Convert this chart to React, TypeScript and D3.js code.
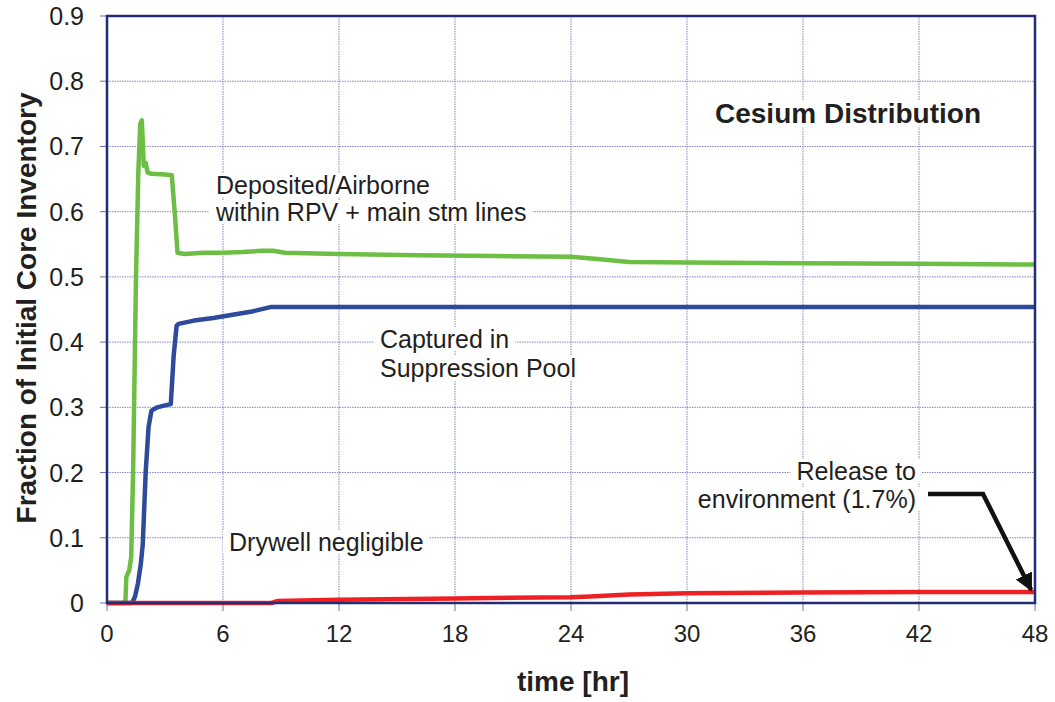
import React, { useEffect, useRef } from 'react';
import * as d3 from 'd3';

// time [hr] and fraction of core inventory
const greenT = [0, 0.95, 1.0, 1.15, 1.25, 1.35, 1.5, 1.62, 1.72, 1.8, 1.86, 1.9, 2.0, 2.1, 2.3, 3.0, 3.35, 3.5, 3.65, 4.0, 5.0, 6.0, 7.0, 8.0, 8.6, 9.2, 12, 16, 20, 24, 25.5, 27, 30, 36, 42, 48];
const greenV = [0, 0, 0.04, 0.05, 0.07, 0.2, 0.5, 0.66, 0.735, 0.74, 0.7, 0.67, 0.675, 0.66, 0.658, 0.657, 0.656, 0.6, 0.537, 0.535, 0.537, 0.537, 0.538, 0.54, 0.54, 0.537, 0.535, 0.533, 0.532, 0.531, 0.527, 0.523, 0.522, 0.521, 0.52, 0.519];

const blueT = [0, 1.3, 1.45, 1.6, 1.75, 1.85, 2.0, 2.15, 2.3, 2.6, 3.0, 3.3, 3.45, 3.6, 3.7, 4.5, 5.5, 6.5, 7.5, 8.5, 48];
const blueV = [0, 0, 0.01, 0.03, 0.06, 0.09, 0.2, 0.27, 0.295, 0.3, 0.303, 0.305, 0.38, 0.425, 0.428, 0.433, 0.437, 0.442, 0.447, 0.454, 0.454];

const redT = [0, 8.5, 8.8, 12, 18, 24, 25, 27, 30, 36, 42, 48];
const redV = [0, 0, 0.003, 0.005, 0.007, 0.009, 0.01, 0.013, 0.015, 0.016, 0.017, 0.017];

const xTicks = [0, 6, 12, 18, 24, 30, 36, 42, 48];
const yTicks = [0, 0.1, 0.2, 0.3, 0.4, 0.5, 0.6, 0.7, 0.8, 0.9];

const W = 1055;
const H = 702;

export default function App() {
  const svgRef = useRef<SVGSVGElement>(null);

  useEffect(() => {
    if (!svgRef.current) return;
    const svg = d3.select(svgRef.current);
    svg.selectAll('*').remove();

    const left = 107, right = 1035, top = 16, bottom = 603;
    const x = d3.scaleLinear().domain([0, 48]).range([left, right]);
    const y = d3.scaleLinear().domain([0, 0.9]).range([bottom, top]);
    const navy = '#232c74';
    const font = '"Liberation Sans", Arial, sans-serif';
    const ink = '#231f20';

    svg.append('rect').attr('width', W).attr('height', H).attr('fill', '#fff');

    // grid
    const grid = svg.append('g');
    xTicks.slice(1, -1).forEach(t => {
      grid.append('line')
        .attr('x1', x(t)).attr('x2', x(t)).attr('y1', top).attr('y2', bottom)
        .attr('stroke', '#7f84c4').attr('stroke-width', 1).attr('stroke-dasharray', '1.5,1');
    });
    yTicks.slice(1, -1).forEach(v => {
      grid.append('line')
        .attr('x1', left).attr('x2', right).attr('y1', y(v)).attr('y2', y(v))
        .attr('stroke', '#7f84c4').attr('stroke-width', 1).attr('stroke-dasharray', '1.5,1');
    });

    // tick marks + labels
    yTicks.forEach(v => {
      svg.append('line').attr('x1', left - 7).attr('x2', left).attr('y1', y(v)).attr('y2', y(v))
        .attr('stroke', '#6a6ea8').attr('stroke-width', 1);
      svg.append('text').attr('x', 84).attr('y', y(v)).attr('dy', '0.36em')
        .attr('text-anchor', 'end').style('font-family', font).style('font-size', '25px')
        .attr('fill', ink).text(v === 0 ? '0' : v.toFixed(1));
    });
    xTicks.forEach(t => {
      svg.append('line').attr('x1', x(t)).attr('x2', x(t)).attr('y1', bottom).attr('y2', bottom + 8)
        .attr('stroke', '#6a6ea8').attr('stroke-width', 1);
      svg.append('text').attr('x', x(t)).attr('y', 642)
        .attr('text-anchor', 'middle').style('font-family', font)
        .style('font-size', '24px').attr('fill', ink).text(String(t));
    });

    // labels with white boxes hiding grid
    const label = (lines: string[], lx: number, ly: number, anchor: string, size: number, bold = false, gap = 28) => {
      const g = svg.append('g');
      lines.forEach((s, i) => {
        const t = g.append('text').attr('x', lx).attr('y', ly + i * gap)
          .attr('text-anchor', anchor).style('font-family', font).style('font-size', `${size}px`)
          .style('font-weight', bold ? 'bold' : 'normal').attr('fill', ink).text(s);
        const bb = (t.node() as SVGTextElement).getBBox();
        g.insert('rect', 'text').attr('x', bb.x - 6).attr('y', bb.y + 2)
          .attr('width', bb.width + 12).attr('height', bb.height - 4).attr('fill', '#fff');
      });
    };

    label(['Cesium Distribution'], 848, 123, 'middle', 28, true);
    label(['Deposited/Airborne', 'within RPV + main stm lines'], 216, 194, 'start', 25, false, 27);
    label(['Captured in', 'Suppression Pool'], 380, 348, 'start', 25, false, 29);
    label(['Drywell negligible'], 229, 551, 'start', 25);
    label(['Release to', 'environment (1.7%)'], 916, 480, 'end', 25, false, 28);

    // series
    const line = d3.line<[number, number]>().x(d => x(d[0])).y(d => y(d[1]));
    const series: [number[], number[], string][] = [
      [greenT, greenV, '#6cbe45'],
      [blueT, blueV, '#2e4b9b'],
      [redT, redV, '#ed2124'],
    ];
    series.forEach(([ts, vs, c]) => {
      const pts = ts.map((t, i) => [t, vs[i]] as [number, number]);
      svg.append('path').datum(pts).attr('d', line).attr('fill', 'none')
        .attr('stroke', c).attr('stroke-width', 4.5).attr('stroke-linejoin', 'round');
    });

    // frame
    svg.append('rect').attr('x', left).attr('y', top).attr('width', right - left).attr('height', bottom - top)
      .attr('fill', 'none').attr('stroke', navy).attr('stroke-width', 2.5);

    // arrow
    svg.append('defs').append('marker').attr('id', 'ah').attr('viewBox', '0 0 10 10')
      .attr('refX', 9).attr('refY', 5).attr('markerWidth', 4).attr('markerHeight', 4)
      .attr('orient', 'auto').append('path').attr('d', 'M0,0 L10,5 L0,10 Z').attr('fill', '#111');
    svg.append('path').attr('d', `M928,494 L983,494 L${x(47.8)},${y(0.02)}`)
      .attr('fill', 'none').attr('stroke', '#111').attr('stroke-width', 4.5).attr('marker-end', 'url(#ah)');

    // axis titles
    svg.append('text').attr('transform', `translate(36,308) rotate(-90)`).attr('text-anchor', 'middle')
      .style('font-family', font).style('font-size', '28px').style('font-weight', 'bold')
      .attr('fill', ink).text('Fraction of Initial Core Inventory');
    svg.append('text').attr('x', 573).attr('y', 691).attr('text-anchor', 'middle')
      .style('font-family', font).style('font-size', '28px').style('font-weight', 'bold')
      .attr('fill', ink).text('time [hr]');
  }, []);

  return (
    <svg ref={svgRef} width={W} height={H}
      style={{ position: 'absolute', left: 0, top: 0, display: 'block' }} />
  );
}
